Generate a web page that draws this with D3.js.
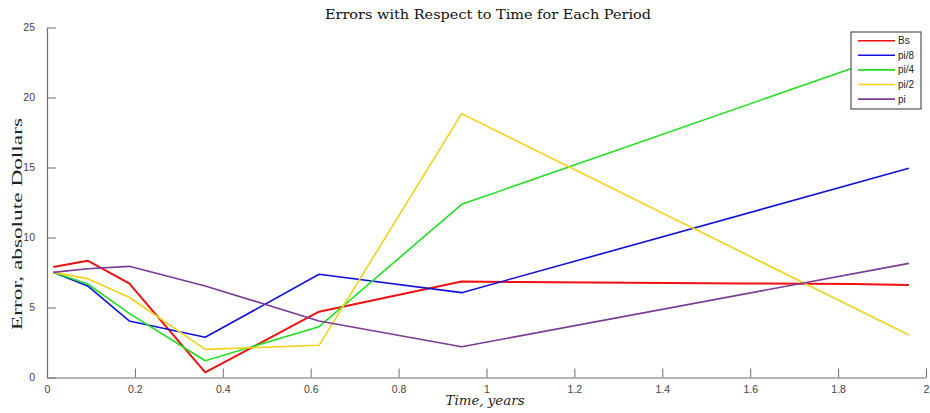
<!DOCTYPE html>
<html>
<head>
<meta charset="utf-8">
<script src="https://cdn.jsdelivr.net/npm/d3@7"></script>
<style>
  html, body { margin: 0; padding: 0; background: #fff; }
  svg { display: block; }
</style>
</head>
<body>
<svg id="chart" width="930" height="413"></svg>
<script>
// Sample times (years) shared by the period series
const times = [0.0143, 0.0925, 0.187, 0.36, 0.619, 0.9435, 1.961];
// Black-Scholes series is sampled more densely at the long end
const timesBs = [0.0143, 0.0925, 0.187, 0.36, 0.619, 0.9435, 1.07, 1.327, 1.581, 1.834, 1.961];

const errBs   = [7.89, 8.34, 6.73, 0.37, 4.70, 6.85, 6.82, 6.77, 6.72, 6.67, 6.60];
const errPi8  = [7.51, 6.54, 4.04, 2.87, 7.37, 6.06, 14.94];
const errPi4  = [7.51, 6.68, 4.58, 1.20, 3.63, 12.37, 23.50];
const errPi2  = [7.51, 7.06, 5.73, 2.01, 2.30, 18.85, 3.04];
const errPi   = [7.51, 7.77, 7.94, 6.54, 4.04, 2.20, 8.15];

const seriesNames = ["Bs", "pi/8", "pi/4", "pi/2", "pi"];
const seriesColors = ["#ee1111", "#1111dd", "#22e022", "#f4d21c", "#7b3a96"];

const xTicks = [0, 0.2, 0.4, 0.6, 0.8, 1, 1.2, 1.4, 1.6, 1.8, 2];
const yTicks = [0, 5, 10, 15, 20, 25];

const titleText = "Errors with Respect to Time for Each Period";
const xLabelText = "Time, years";
const yLabelText = "Error, absolute Dollars";

const series = [
  { name: seriesNames[0], t: timesBs, v: errBs },
  { name: seriesNames[1], t: times, v: errPi8 },
  { name: seriesNames[2], t: times, v: errPi4 },
  { name: seriesNames[3], t: times, v: errPi2 },
  { name: seriesNames[4], t: times, v: errPi }
];

const svg = d3.select("#chart");
const x = d3.scaleLinear().domain([0, 2]).range([47, 926]);
const y = d3.scaleLinear().domain([0, 25]).range([377.5, 27.5]);
const color = d3.scaleOrdinal().domain(seriesNames).range(seriesColors);

// Lines
const line = d3.line().x(d => x(d[0])).y(d => y(d[1]));
svg.append("g").selectAll("path")
  .data(series)
  .join("path")
  .attr("fill", "none")
  .attr("stroke", d => color(d.name))
  .attr("stroke-width", d => d.name === "Bs" ? 2 : 1.6)
  .attr("stroke-linejoin", "round")
  .attr("d", d => line(d.t.map((t, i) => [t, d.v[i]])));

// Axes with inward ticks
const xAxis = d3.axisBottom(x).tickValues(xTicks).tickSizeInner(-9).tickSizeOuter(0)
  .tickPadding(14).tickFormat(d3.format("~g"));
const gx = svg.append("g").attr("transform", `translate(0,${y(0)})`).call(xAxis);

const yAxis = d3.axisLeft(y).tickValues(yTicks).tickSizeInner(-9).tickSizeOuter(0)
  .tickPadding(12).tickFormat(d3.format("~g"));
const gy = svg.append("g").attr("transform", `translate(${x(0)},0)`).call(yAxis);

[gx, gy].forEach(g => {
  g.select(".domain").attr("stroke", "#6e6e6e").attr("stroke-width", 1.2);
  g.selectAll(".tick line").attr("stroke", "#6e6e6e");
  g.selectAll(".tick text")
    .attr("fill", "#444")
    .style("font-family", "'Liberation Sans', Arial, sans-serif")
    .style("font-size", "10.5px");
});
gx.selectAll(".tick text").attr("dy", "0.1em");
gy.selectAll(".tick text").attr("dx", "0");

// Title and axis labels
svg.append("text")
  .attr("x", 488).attr("y", 19)
  .attr("text-anchor", "middle")
  .attr("textLength", 326).attr("lengthAdjust", "spacingAndGlyphs")
  .style("font-family", "'DejaVu Serif', 'Liberation Serif', serif")
  .style("font-size", "12.5px")
  .attr("fill", "#111")
  .text(titleText);

svg.append("text")
  .attr("x", 485).attr("y", 405)
  .attr("text-anchor", "middle")
  .attr("textLength", 79).attr("lengthAdjust", "spacingAndGlyphs")
  .style("font-family", "'DejaVu Serif', 'Liberation Serif', serif")
  .style("font-style", "italic")
  .style("font-size", "12px")
  .attr("fill", "#222")
  .text(xLabelText);

svg.append("text")
  .attr("transform", "translate(22,224) rotate(-90)")
  .attr("text-anchor", "middle")
  .attr("textLength", 212).attr("lengthAdjust", "spacingAndGlyphs")
  .style("font-family", "'Liberation Serif', 'DejaVu Serif', serif")
  .style("font-size", "15px")
  .attr("fill", "#222")
  .text(yLabelText);

// Legend
const legend = svg.append("g").attr("transform", "translate(851,32)");
legend.append("rect")
  .attr("width", 70).attr("height", 77)
  .attr("fill", "#fff").attr("stroke", "#333").attr("stroke-width", 1);
const rows = legend.selectAll("g.row").data(seriesNames).join("g")
  .attr("class", "row")
  .attr("transform", (d, i) => `translate(0,${8.7 + i * 14.6})`);
rows.append("line")
  .attr("x1", 7).attr("x2", 44).attr("y1", 0).attr("y2", 0)
  .attr("stroke", d => color(d)).attr("stroke-width", 1.6);
rows.append("text")
  .attr("x", 47).attr("y", 0).attr("dy", "0.35em")
  .style("font-family", "'Liberation Sans', Arial, sans-serif")
  .style("font-size", "10px")
  .attr("fill", "#222")
  .text(d => d);
</script>
</body>
</html>
